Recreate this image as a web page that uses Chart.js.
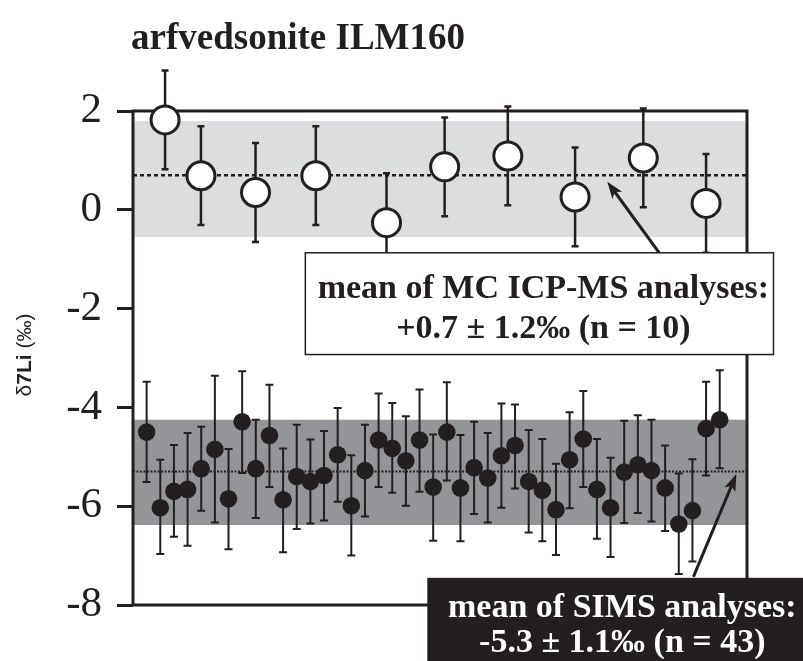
<!DOCTYPE html>
<html><head><meta charset="utf-8">
<script src="https://cdn.jsdelivr.net/npm/chart.js@4/dist/chart.umd.min.js"></script>
<style>html,body{margin:0;padding:0;background:#fff;}canvas{display:block;}</style>
</head><body>
<canvas id="c" width="803" height="661"></canvas>
<script>
// ---- data ----
const titleText = 'arfvedsonite ILM160';
const yTicks = [-8, -6, -4, -2, 0, 2];
const icpX = [2.35, 4.98, 8.98, 13.4, 18.58, 22.84, 27.47, 32.4, 37.4, 42.0];
const icpY = [1.82, 0.69, 0.35, 0.69, -0.26, 0.87, 1.09, 0.26, 1.05, 0.13];
const icpErr = [1.0, 1.0, 1.0, 1.0, 1.0, 1.0, 1.0, 1.0, 1.0, 1.0];
const simsX = [1,2,3,4,5,6,7,8,9,10,11,12,13,14,15,16,17,18,19,20,21,22,23,24,25,26,27,28,29,30,31,32,33,34,35,36,37,38,39,40,41,42,43];
const simsY = [-4.50,-6.03,-5.70,-5.66,-5.24,-4.85,-5.85,-4.29,-5.24,-4.57,-5.87,-5.40,-5.50,-5.38,-4.96,-5.99,-5.28,-4.66,-4.83,-5.08,-4.66,-5.61,-4.50,
               -5.63,-5.22,-5.43,-4.98,-4.77,-5.50,-5.68,-6.07,-5.06,-4.64,-5.66,-6.03,-5.31,-5.16,-5.28,-5.63,-6.36,-6.09,-4.43,-4.25];
const simsHi = [-3.48,-5.06,-4.76,-4.52,-4.39,-3.36,-4.84,-3.27,-4.25,-3.54,-4.83,-4.35,-4.65,-4.48,-4.01,-4.97,-4.35,-3.72,-3.91,-4.18,-3.64,-4.55,-3.49,
                -4.56,-4.29,-4.52,-3.92,-3.94,-4.46,-4.64,-5.14,-4.10,-3.67,-4.64,-5.02,-4.27,-4.16,-4.25,-4.77,-5.34,-5.05,-3.48,-3.25];
const simsLo = [-5.51,-6.97,-6.62,-6.80,-6.09,-6.33,-6.87,-5.33,-6.24,-5.61,-6.93,-6.46,-6.35,-6.29,-5.91,-7.00,-6.21,-5.61,-5.73,-5.99,-5.71,-6.70,-5.48,
                -6.71,-6.16,-6.33,-6.03,-5.64,-6.53,-6.71,-6.99,-6.04,-5.61,-6.66,-7.03,-6.34,-6.14,-6.31,-6.50,-7.37,-7.12,-5.38,-5.23];
const icpMean = 0.7;
const icpBand = [-0.55, 1.8];
const simsMean = -5.3;
const simsBand = [-6.38, -4.25];
const icpLabel = ['mean of MC ICP-MS analyses:', '+0.7 \u00b1 1.2\u2030 (n = 10)'];
const simsLabel = ['mean of SIMS analyses:', '-5.3 \u00b1 1.1\u2030 (n = 43)'];

// ---- styles ----
const INK = '#231f20';
const LIGHT = '#dcdddf';
const DARK = '#939598';
const SERIF = '"Liberation Serif", "Times New Roman", serif';

const decor = {
  id: 'decor',
  beforeDatasetsDraw(chart) {
    const {ctx, chartArea: a, scales: {x: X, y: Y}} = chart;
    const py = v => Y.getPixelForValue(v), px = v => X.getPixelForValue(v);
    ctx.save();
    ctx.fillStyle = LIGHT;
    ctx.fillRect(a.left, py(icpBand[1]), a.width, py(icpBand[0]) - py(icpBand[1]));
    ctx.fillStyle = DARK;
    ctx.fillRect(a.left, py(simsBand[1]), a.width, py(simsBand[0]) - py(simsBand[1]));
    ctx.strokeStyle = INK;
    ctx.lineWidth = 2.5;
    ctx.setLineDash([4, 3]);
    ctx.beginPath(); ctx.moveTo(a.left, py(icpMean)); ctx.lineTo(a.right, py(icpMean)); ctx.stroke();
    ctx.lineWidth = 2;
    ctx.setLineDash([2, 1.5]);
    ctx.beginPath(); ctx.moveTo(a.left, py(simsMean)); ctx.lineTo(a.right, py(simsMean)); ctx.stroke();
    ctx.setLineDash([]);
    ctx.lineWidth = 3;
    ctx.strokeRect(a.left, a.top, a.width, a.height);
    const bar = (x, lo, hi, lw, cap) => {
      ctx.lineWidth = lw;
      ctx.beginPath();
      ctx.moveTo(px(x), py(lo)); ctx.lineTo(px(x), py(hi));
      ctx.moveTo(px(x) - cap, py(lo)); ctx.lineTo(px(x) + cap, py(lo));
      ctx.moveTo(px(x) - cap, py(hi)); ctx.lineTo(px(x) + cap, py(hi));
      ctx.stroke();
    };
    icpX.forEach((x, i) => bar(x, icpY[i] - icpErr[i], icpY[i] + icpErr[i], 2.5, 3.5));
    simsX.forEach((x, i) => bar(x, simsLo[i], simsHi[i], 2, 4));
    ctx.restore();
  },
  afterDraw(chart) {
    const {ctx, chartArea: a, scales: {x: X, y: Y}} = chart;
    const py = v => Y.getPixelForValue(v), px = v => X.getPixelForValue(v);
    ctx.save();
    const arrow = (x0, y0, x1, y1) => {
      const X0 = px(x0), Y0 = py(y0), X1 = px(x1), Y1 = py(y1);
      const ang = Math.atan2(Y1 - Y0, X1 - X0);
      const L = 17, W = 6;
      ctx.strokeStyle = INK; ctx.fillStyle = INK; ctx.lineWidth = 3;
      ctx.beginPath(); ctx.moveTo(X0, Y0);
      ctx.lineTo(X1 - Math.cos(ang) * L * 0.7, Y1 - Math.sin(ang) * L * 0.7); ctx.stroke();
      ctx.beginPath();
      ctx.moveTo(X1, Y1);
      ctx.lineTo(X1 - Math.cos(ang) * L - Math.sin(ang) * W, Y1 - Math.sin(ang) * L + Math.cos(ang) * W);
      ctx.lineTo(X1 - Math.cos(ang) * L * 0.75, Y1 - Math.sin(ang) * L * 0.75);
      ctx.lineTo(X1 - Math.cos(ang) * L + Math.sin(ang) * W, Y1 - Math.sin(ang) * L - Math.cos(ang) * W);
      ctx.closePath(); ctx.fill();
    };
    arrow(38.57, -0.87, 34.76, 0.57);
    arrow(41.07, -7.43, 44.22, -5.35);
    // box 1
    const b1l = px(12.63), b1r = px(46.94), b1t = py(-0.87), b1b = py(-2.93);
    ctx.fillStyle = '#ffffff';
    ctx.fillRect(b1l, b1t, b1r - b1l, b1b - b1t);
    ctx.strokeStyle = INK; ctx.lineWidth = 1.5;
    ctx.strokeRect(b1l, b1t, b1r - b1l, b1b - b1t);
    ctx.fillStyle = INK;
    ctx.font = 'bold 34px ' + SERIF;
    ctx.textAlign = 'center'; ctx.textBaseline = 'alphabetic';
    const c1 = (b1l + b1r) / 2 + 4;
    ctx.fillText(icpLabel[0], c1, b1t + 45);
    ctx.fillText(icpLabel[1], c1, b1t + 85);
    // box 2
    const b2l = px(21.57), b2t = py(-7.45);
    ctx.fillStyle = INK;
    ctx.fillRect(b2l, b2t, chart.width - b2l, chart.height - b2t);
    ctx.fillStyle = '#ffffff';
    const c2 = b2l + 195;
    ctx.fillText(simsLabel[0], c2, b2t + 39);
    ctx.fillText(simsLabel[1], c2, b2t + 74);
    // title
    ctx.fillStyle = INK;
    ctx.textAlign = 'left';
    ctx.font = 'bold 37px ' + SERIF;
    ctx.fillText(titleText, 131, 49);
    // y label
    ctx.save();
    ctx.translate(31, 355);
    ctx.rotate(-Math.PI / 2);
    ctx.textBaseline = 'alphabetic';
    const parts = [['\u03b4', 'normal'], ['7Li', 'bold'], [' (\u2030)', 'normal']];
    const F = ' 21px "Liberation Sans", Arial, sans-serif';
    let total = 0;
    parts.forEach(p => { ctx.font = p[1] + F; total += ctx.measureText(p[0]).width; });
    let cx = -total / 2;
    parts.forEach(p => { ctx.font = p[1] + F; ctx.textAlign = 'left'; ctx.fillText(p[0], cx, 0); cx += ctx.measureText(p[0]).width; });
    ctx.restore();
    ctx.restore();
  }
};

new Chart(document.getElementById('c'), {
  type: 'scatter',
  data: {
    datasets: [
      {
        label: 'MC ICP-MS',
        data: icpX.map((x, i) => ({x, y: icpY[i]})),
        pointRadius: 14, pointBorderWidth: 3,
        pointBackgroundColor: '#ffffff', pointBorderColor: INK,
        clip: false
      },
      {
        label: 'SIMS',
        data: simsX.map((x, i) => ({x, y: simsY[i]})),
        pointRadius: 8.8, pointBorderWidth: 0,
        pointBackgroundColor: INK, pointBorderColor: INK,
        clip: false
      }
    ]
  },
  options: {
    responsive: false,
    animation: false,
    events: [],
    layout: {padding: {left: 0, right: 56, top: 111, bottom: 56}},
    plugins: {legend: {display: false}, tooltip: {enabled: false}, title: {display: false}},
    scales: {
      x: {type: 'linear', min: 0, max: 45, display: false},
      y: {
        type: 'linear', min: -8, max: 2,
        afterFit(s) { s.width = 133; },
        afterBuildTicks(s) { s.ticks = yTicks.map(v => ({value: v})); },
        border: {display: false},
        grid: {drawOnChartArea: false, drawTicks: true, tickLength: 16, tickWidth: 3, tickColor: INK, color: INK},
        ticks: {color: INK, padding: 15, font: {family: SERIF, size: 43}}
      }
    }
  },
  plugins: [decor]
});
</script>
</body></html>
